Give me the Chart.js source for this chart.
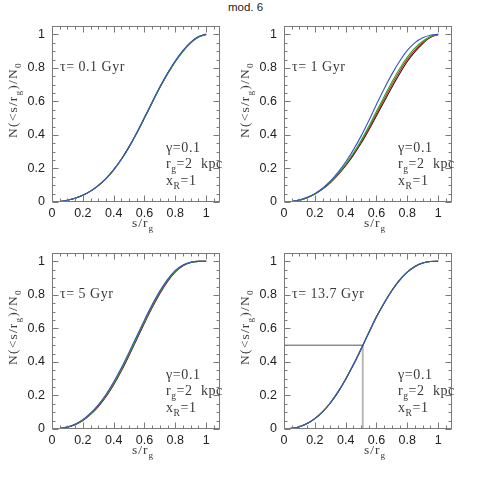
<!DOCTYPE html>
<html>
<head>
<meta charset="utf-8">
<script src="https://cdn.jsdelivr.net/npm/chart.js@4.4.1/dist/chart.umd.min.js"></script>
<style>
  html, body { margin: 0; padding: 0; background: #fff; }
  #wrap { position: relative; width: 479px; height: 479px; overflow: hidden; }
  #wrap canvas { position: absolute; }
  #title { position: absolute; left: 228px; top: 1px; font: 11.5px "Liberation Sans", Arial, sans-serif; color: #222; }
</style>
</head>
<body>
<div id="wrap">
  <div id="title">mod. 6</div>
  <canvas id="p1" width="240" height="240" style="left:0;top:0"></canvas>
  <canvas id="p2" width="240" height="240" style="left:232px;top:0"></canvas>
  <canvas id="p3" width="240" height="240" style="left:0;top:227px"></canvas>
  <canvas id="p4" width="240" height="240" style="left:232px;top:227px"></canvas>
</div>
<script>
// s/r_g grid, same for every curve
const sGrid = [0, 0.05, 0.1, 0.15, 0.2, 0.25, 0.3, 0.35, 0.4, 0.45, 0.5,
               0.55, 0.6, 0.65, 0.7, 0.75, 0.8, 0.85, 0.9, 0.95, 1];

// tau = 0.1 Gyr
const tau01Blue  = [0, 0.003, 0.010, 0.022, 0.040, 0.065, 0.098, 0.140, 0.192, 0.255, 0.329, 0.413, 0.504, 0.597, 0.687, 0.770, 0.843, 0.905, 0.954, 0.987, 1];
const tau01Green = [0, 0.003, 0.010, 0.022, 0.040, 0.065, 0.098, 0.140, 0.192, 0.255, 0.329, 0.412, 0.502, 0.594, 0.683, 0.765, 0.837, 0.899, 0.949, 0.984, 1];
const tau01Red   = [0, 0.003, 0.010, 0.022, 0.040, 0.065, 0.098, 0.140, 0.192, 0.255, 0.329, 0.412, 0.502, 0.594, 0.683, 0.765, 0.838, 0.900, 0.950, 0.985, 1];
const tau01Black = [0, 0.003, 0.010, 0.022, 0.040, 0.065, 0.098, 0.140, 0.192, 0.255, 0.329, 0.412, 0.502, 0.594, 0.684, 0.766, 0.839, 0.901, 0.951, 0.985, 1];

// tau = 1 Gyr
const tau1Blue  = [0, 0.003, 0.012, 0.028, 0.050, 0.082, 0.124, 0.177, 0.239, 0.311, 0.393, 0.485, 0.582, 0.676, 0.763, 0.840, 0.904, 0.951, 0.980, 0.995, 1];
const tau1Green = [0, 0.003, 0.011, 0.027, 0.048, 0.079, 0.119, 0.168, 0.226, 0.292, 0.367, 0.452, 0.542, 0.630, 0.716, 0.795, 0.864, 0.919, 0.959, 0.987, 1];
const tau1Red   = [0, 0.003, 0.011, 0.026, 0.048, 0.078, 0.117, 0.165, 0.221, 0.286, 0.359, 0.441, 0.528, 0.615, 0.701, 0.780, 0.851, 0.908, 0.952, 0.985, 1];
const tau1Black = [0, 0.003, 0.011, 0.026, 0.047, 0.077, 0.115, 0.162, 0.217, 0.280, 0.350, 0.430, 0.515, 0.600, 0.685, 0.765, 0.838, 0.897, 0.945, 0.982, 1];

// tau = 5 Gyr
const tau5Blue  = [0, 0.003, 0.012, 0.029, 0.056, 0.094, 0.144, 0.206, 0.280, 0.365, 0.458, 0.555, 0.651, 0.742, 0.824, 0.893, 0.946, 0.979, 0.995, 1, 1];
const tau5Green = [0, 0.003, 0.012, 0.028, 0.054, 0.091, 0.140, 0.200, 0.273, 0.357, 0.449, 0.546, 0.643, 0.734, 0.817, 0.888, 0.942, 0.977, 0.994, 1, 1];
const tau5Red   = [0, 0.003, 0.011, 0.027, 0.052, 0.089, 0.137, 0.196, 0.268, 0.352, 0.444, 0.541, 0.638, 0.729, 0.812, 0.884, 0.939, 0.975, 0.994, 1, 1];
const tau5Black = [0, 0.003, 0.011, 0.026, 0.051, 0.087, 0.134, 0.193, 0.264, 0.347, 0.439, 0.536, 0.633, 0.725, 0.809, 0.881, 0.937, 0.974, 0.993, 1, 1];

// tau = 13.7 Gyr (all four curves coincide)
const tau137Blue  = [0, 0.004, 0.014, 0.033, 0.062, 0.102, 0.155, 0.220, 0.297, 0.383, 0.477, 0.574, 0.669, 0.752, 0.826, 0.888, 0.936, 0.970, 0.990, 0.999, 1];
const tau137Green = [0, 0.004, 0.014, 0.033, 0.062, 0.102, 0.155, 0.220, 0.297, 0.383, 0.477, 0.574, 0.669, 0.752, 0.826, 0.888, 0.936, 0.970, 0.990, 0.999, 1];
const tau137Red   = tau137Green;
const tau137Black = tau137Green;

// half-mass radius marked in the last panel
const medianS = 0.511;
const medianN = 0.5;

const tauLabels = ['0.1', '1', '5', '13.7'];
// first entry is drawn on top
const curveNames = ['blue', 'green', 'red', 'black'];
const curveColors = ['#3355cc', '#22b022', '#d92020', '#1a1a1a'];

const xMajor = [0, 0.2, 0.4, 0.6, 0.8, 1];
const xMajorLabels = ['0', '0.2', '0.4', '0.6', '0.8', '1'];
const xMinor = [0.05, 0.1, 0.15, 0.25, 0.3, 0.35, 0.45, 0.5, 0.55, 0.65, 0.7, 0.75, 0.85, 0.9, 0.95, 1.05];
const yMajor = [0, 0.2, 0.4, 0.6, 0.8, 1];
const yMajorLabels = ['0', '0.2', '0.4', '0.6', '0.8', '1'];
const yMinor = [0.05, 0.1, 0.15, 0.25, 0.3, 0.35, 0.45, 0.5, 0.55, 0.65, 0.7, 0.75, 0.85, 0.9, 0.95];

const SERIF = '"Liberation Serif", "DejaVu Serif", serif';
const frameColor = '#7a7a7a';
const textColor = '#3a3a3a';

// draw text with subscripts: parts = [[text, isSub], ...]
function drawRich(ctx, parts, x, y, size, spacing) {
    let cx = x;
    parts.forEach(([t, sub]) => {
        const fs = sub ? size * 0.68 : size;
        ctx.font = fs + 'px ' + SERIF;
        ctx.letterSpacing = '0px';
        const w = ctx.measureText(t).width + spacing * t.length;
        ctx.letterSpacing = spacing + 'px';
        ctx.fillText(t, cx, sub ? y + size * 0.3 : y);
        cx += w;
    });
    ctx.letterSpacing = '0px';
    return cx - x;
}

const framePlugin = {
    id: 'frameTicks',
    afterDatasetsDraw(chart) {
        const ctx = chart.ctx;
        const a = chart.chartArea;
        const xs = chart.scales.x, ys = chart.scales.y;
        const L = Math.round(a.left) + 0.5, R = Math.round(a.right) - 0.5;
        const T = Math.round(a.top) + 0.5, B = Math.round(a.bottom) - 0.5;
        ctx.save();
        ctx.strokeStyle = frameColor;
        ctx.lineWidth = 1;
        ctx.strokeRect(L, T, R - L, B - T);
        ctx.beginPath();
        const tickX = (vals, len) => vals.forEach(v => {
            const px = Math.round(xs.getPixelForValue(v)) + 0.5;
            ctx.moveTo(px, B); ctx.lineTo(px, B - len);
            ctx.moveTo(px, T); ctx.lineTo(px, T + len);
        });
        const tickY = (vals, len) => vals.forEach(v => {
            const py = Math.round(ys.getPixelForValue(v)) + 0.5;
            ctx.moveTo(L, py); ctx.lineTo(L + len, py);
            ctx.moveTo(R, py); ctx.lineTo(R - len, py);
        });
        tickX(xMajor, 6); tickX(xMinor, 3);
        tickY(yMajor, 6); tickY(yMinor, 3);
        ctx.stroke();
        ctx.restore();
    },
    afterDraw(chart) {
        const ctx = chart.ctx;
        const a = chart.chartArea;
        const tau = chart.options.plugins.frameTicks.tau;
        ctx.save();
        ctx.fillStyle = textColor;
        ctx.textBaseline = 'alphabetic';
        ctx.textAlign = 'left';
        drawRich(ctx, [['\u03c4= ' + tau + ' Gyr', false]], a.left + 8, a.top + 45, 14, 0.5);
        drawRich(ctx, [['\u03b3=0.1', false]], a.left + 114, a.bottom - 50, 14, 0.6);
        drawRich(ctx, [['r', false], ['g', true], ['=2  kpc', false]], a.left + 114, a.bottom - 34, 14, 0.6);
        drawRich(ctx, [['x', false], ['R', true], ['=1', false]], a.left + 114, a.bottom - 17, 14, 0.6);
        // x axis title
        drawRich(ctx, [['s/r', false], ['g', true]], a.left + 80, a.bottom + 25, 13.5, 1);
        // y axis title, rotated
        ctx.translate(16.5, a.bottom - 64);
        ctx.rotate(-Math.PI / 2);
        drawRich(ctx, [['N(<s/r', false], ['g', true], [')/N', false], ['0', true]], 0, 0, 13.5, 1.2);
        ctx.restore();
    }
};

function makePanel(id, tau, series, withMedian) {
    const datasets = [];
    series.forEach((vals, i) => {
        datasets.push({
            label: curveNames[i],
            data: sGrid.map((s, k) => ({ x: s, y: vals[k] })),
            borderColor: curveColors[i],
            borderWidth: 1.1,
            pointRadius: 0,
            cubicInterpolationMode: 'monotone'
        });
    });
    if (withMedian) {
        datasets.push({
            label: 'median N',
            data: [{ x: 0, y: medianN }, { x: medianS, y: medianN }],
            borderColor: '#555', borderWidth: 1, pointRadius: 0
        });
        datasets.push({
            label: 'median s',
            data: [{ x: medianS, y: 0 }, { x: medianS, y: medianN }],
            borderColor: '#b8b8b8', borderWidth: 2, pointRadius: 0
        });
    }

    const tickFont = { family: '"Liberation Sans", Arial, sans-serif', size: 12.5 };

    return new Chart(document.getElementById(id), {
        type: 'line',
        data: { datasets: datasets },
        options: {
            responsive: false,
            devicePixelRatio: 1,
            animation: false,
            layout: { padding: { left: 0, top: 26, right: 20, bottom: 0 } },
            plugins: {
                legend: { display: false },
                tooltip: { enabled: false },
                frameTicks: { tau: tau }
            },
            scales: {
                x: {
                    type: 'linear',
                    min: 0, max: 1.09,
                    grid: { display: false, drawTicks: false },
                    border: { display: false },
                    afterBuildTicks: s => { s.ticks = xMajor.map(v => ({ value: v })); },
                    afterFit: s => { s.height = 38; },
                    ticks: {
                        padding: 4,
                        color: '#222',
                        font: tickFont,
                        maxRotation: 0,
                        callback: (v, i) => xMajorLabels[i]
                    }
                },
                y: {
                    type: 'linear',
                    min: 0, max: 1.05,
                    grid: { display: false, drawTicks: false },
                    border: { display: false },
                    afterBuildTicks: s => { s.ticks = yMajor.map(v => ({ value: v })); },
                    afterFit: s => { s.width = 52; },
                    ticks: {
                        padding: 7,
                        color: '#222',
                        font: tickFont,
                        callback: (v, i) => yMajorLabels[i]
                    }
                }
            }
        },
        plugins: [framePlugin]
    });
}

makePanel('p1', tauLabels[0], [tau01Blue, tau01Green, tau01Red, tau01Black], false);
makePanel('p2', tauLabels[1], [tau1Blue, tau1Green, tau1Red, tau1Black], false);
makePanel('p3', tauLabels[2], [tau5Blue, tau5Green, tau5Red, tau5Black], false);
makePanel('p4', tauLabels[3], [tau137Blue, tau137Green, tau137Red, tau137Black], true);
</script>
</body>
</html>
